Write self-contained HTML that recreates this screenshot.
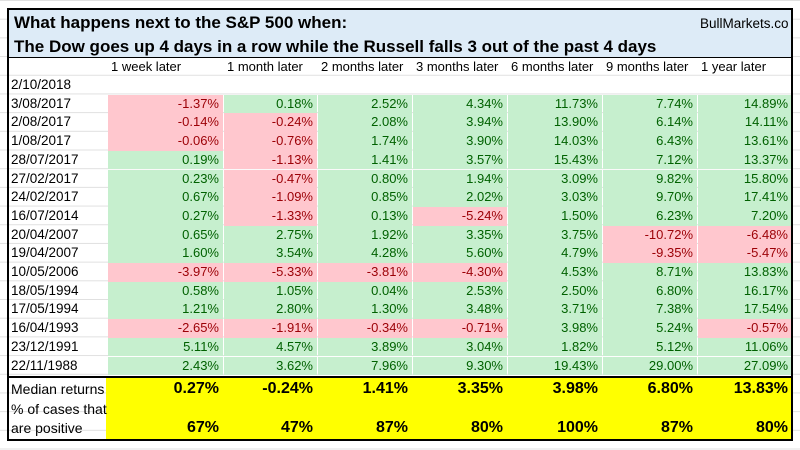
<!DOCTYPE html>
<html><head><meta charset="utf-8">
<style>
body{margin:0;width:800px;height:450px;background:#fff;overflow:hidden;font-family:"Liberation Sans",sans-serif;position:relative}
.a{position:absolute;white-space:nowrap;box-sizing:border-box}
.t{font-weight:bold;font-size:17px;color:#000;left:14px}
.c{font-size:13px;text-align:right;padding-right:4px;line-height:18.7px;height:18.7px}
.g{background:#c6efce;color:#006100}
.r{background:#ffc7ce;color:#9c0006}
.l{font-size:13.5px;color:#000;line-height:18.7px;padding-left:4px}
.b{font-weight:bold;font-size:16px;text-align:right;padding-right:4px;color:#000}
</style></head><body>
<div class="a" style="left:0;top:0;width:800px;height:450px;background-image:linear-gradient(#e0e0e0 1px,transparent 1px);background-size:100% 18.7px"></div>
<div class="a" style="left:7px;top:8px;width:786px;height:50px;background:#ddebf7"></div>
<div class="a t" style="top:13px">What happens next to the S&amp;P 500 when:</div>
<div class="a t" style="top:37px">The Dow goes up 4 days in a row while the Russell falls 3 out of the past 4 days</div>
<div class="a" style="left:700px;top:16px;font-size:13.5px">BullMarkets.co</div>
<div class="a" style="left:106px;top:377px;width:687px;height:63px;background:#ffff00"></div>
<div id="tbl"></div>
<div class="a l" style="left:7px;top:380px;font-size:14px">Median returns</div>
<div class="a l" style="left:7px;top:400px;font-size:14px">% of cases that</div>
<div class="a l" style="left:7px;top:419px;font-size:14px">are positive</div>
<div class="a" style="left:7px;top:8px;width:786px;height:433px;border:2px solid #000"></div>
<div class="a" style="left:7px;top:57px;width:786px;height:1px;background:#000"></div>
<div class="a" style="left:7px;top:376px;width:786px;height:2px;background:#000"></div>
<script>
const colX=[107,223,317,412,507,602,697,792];
const headers=["1 week later","1 month later","2 months later","3 months later","6 months later","9 months later","1 year later"];
const dates=["2/10/2018","3/08/2017","2/08/2017","1/08/2017","28/07/2017","27/02/2017","24/02/2017","16/07/2014","20/04/2007","19/04/2007","10/05/2006","18/05/1994","17/05/1994","16/04/1993","23/12/1991","22/11/1988"];
const values=[null,
[-1.37,0.18,2.52,4.34,11.73,7.74,14.89],
[-0.14,-0.24,2.08,3.94,13.90,6.14,14.11],
[-0.06,-0.76,1.74,3.90,14.03,6.43,13.61],
[0.19,-1.13,1.41,3.57,15.43,7.12,13.37],
[0.23,-0.47,0.80,1.94,3.09,9.82,15.80],
[0.67,-1.09,0.85,2.02,3.03,9.70,17.41],
[0.27,-1.33,0.13,-5.24,1.50,6.23,7.20],
[0.65,2.75,1.92,3.35,3.75,-10.72,-6.48],
[1.60,3.54,4.28,5.60,4.79,-9.35,-5.47],
[-3.97,-5.33,-3.81,-4.30,4.53,8.71,13.83],
[0.58,1.05,0.04,2.53,2.50,6.80,16.17],
[1.21,2.80,1.30,3.48,3.71,7.38,17.54],
[-2.65,-1.91,-0.34,-0.71,3.98,5.24,-0.57],
[5.11,4.57,3.89,3.04,1.82,5.12,11.06],
[2.43,3.62,7.96,9.30,19.43,29.00,27.09]];
const medians=[0.27,-0.24,1.41,3.35,3.98,6.80,13.83];
const positives=[67,47,87,80,100,87,80];
const tbl=document.getElementById('tbl');
function mk(cls,x,y,w,txt){const d=document.createElement('div');d.className='a '+cls;d.style.left=x+'px';d.style.top=y+'px';if(w)d.style.width=w+'px';d.textContent=txt;tbl.appendChild(d);return d;}
const rowY=i=>76+i*18.7;
headers.forEach((h,j)=>{const d=mk('l',colX[j],58,0,h);d.style.fontSize='13px';

});
dates.forEach((dt,i)=>{const y=rowY(i);
const d=mk('l',7,y,0,dt);


const row=values[i];if(!row)return;
row.forEach((v,j)=>{const c=mk('c '+(v<0?'r':'g'),colX[j]+1,y,colX[j+1]-colX[j]-1,v.toFixed(2)+'%');

});});
medians.forEach((v,j)=>{const c=mk('b',colX[j],380,colX[j+1]-colX[j],v.toFixed(2)+'%');

});
positives.forEach((v,j)=>{const c=mk('b',colX[j],419,colX[j+1]-colX[j],v+'%');

});
</script>
</body></html>
